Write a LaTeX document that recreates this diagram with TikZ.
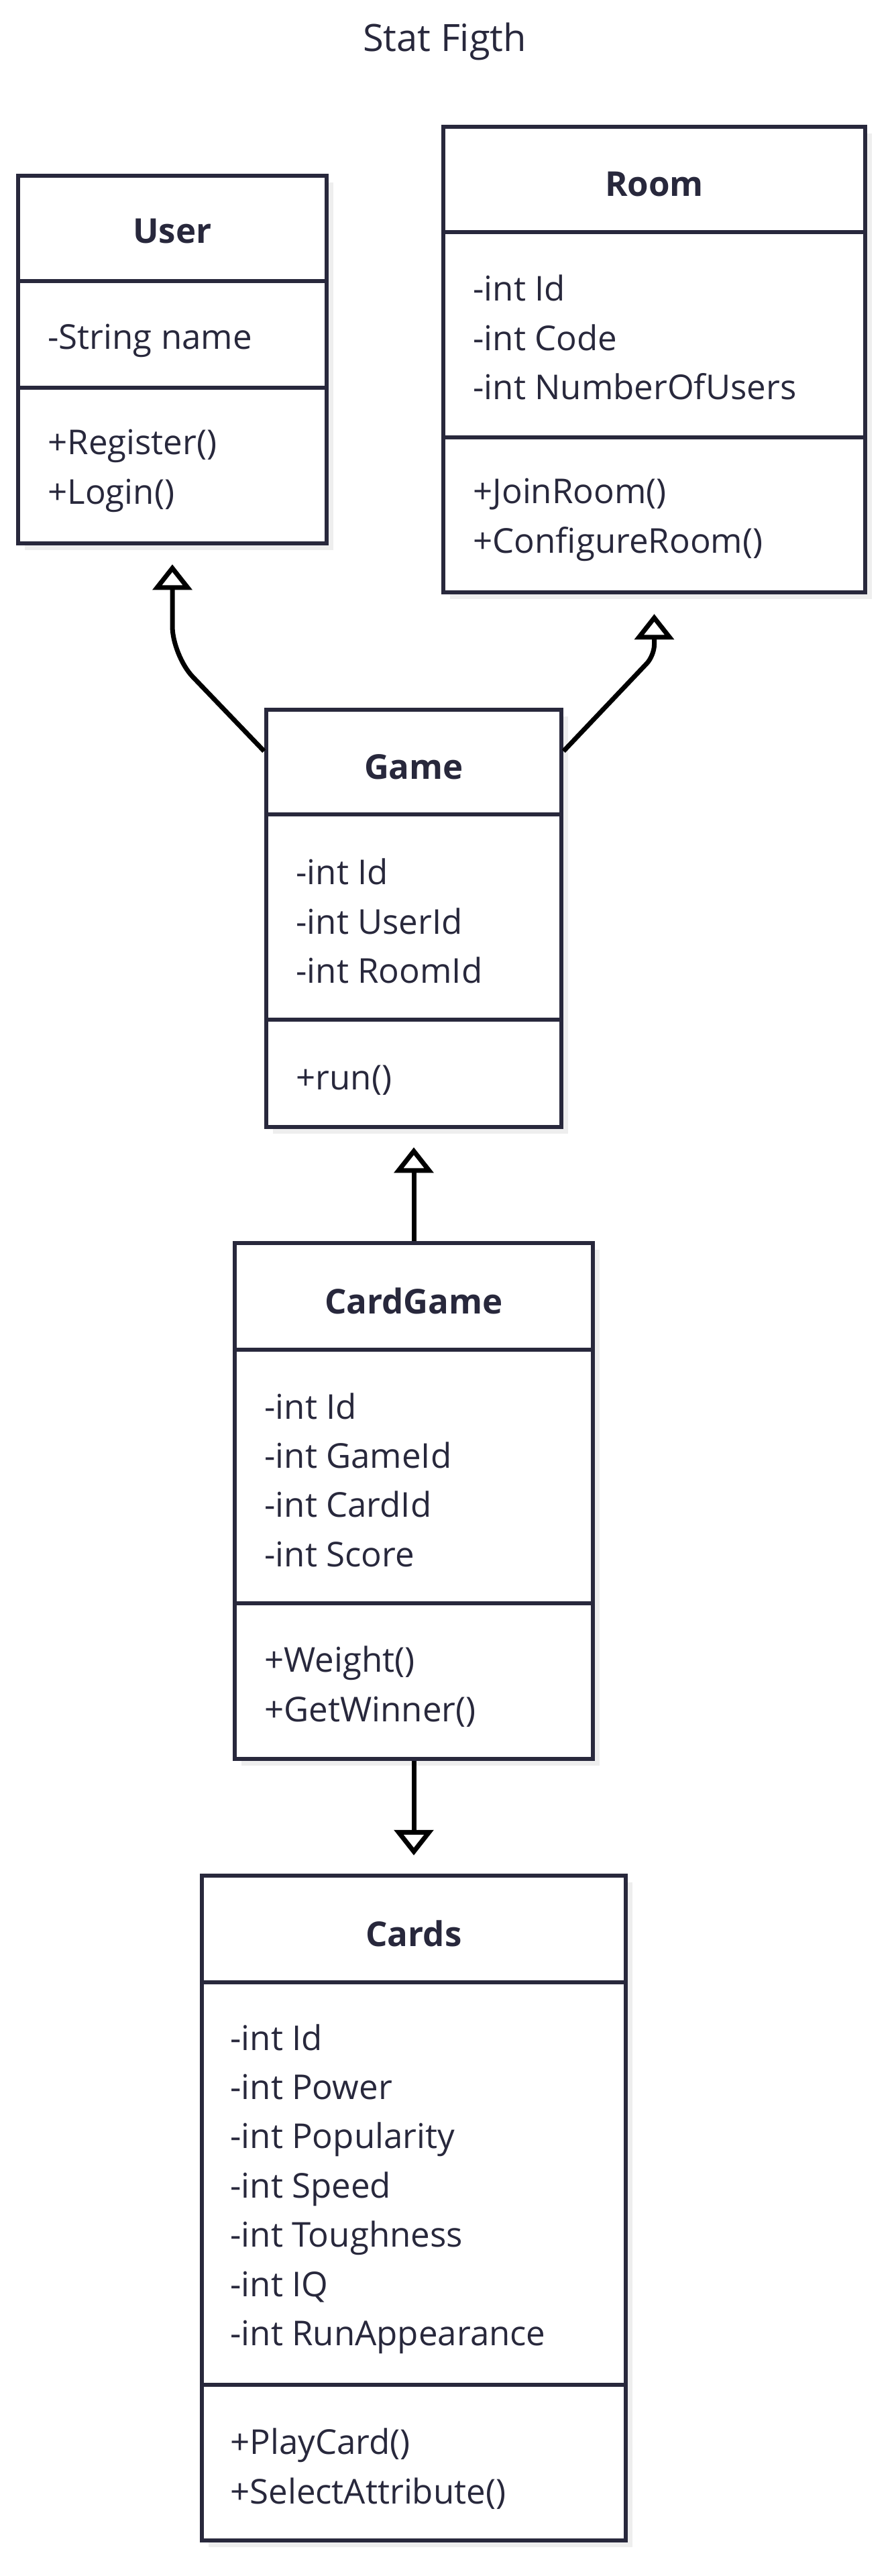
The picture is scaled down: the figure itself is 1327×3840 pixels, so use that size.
\documentclass[tikz,border=0pt]{standalone}
\usepackage{fontspec}
\setmainfont{Open Sans}
\usetikzlibrary{arrows.meta,shadows,calc}
\definecolor{ink}{HTML}{28283C}
\definecolor{shade}{HTML}{EEEEEE}
\begin{document}
\begin{tikzpicture}[x=0.5pt,y=-0.5pt,
  classbox/.style={draw=ink, line width=3.25pt, fill=white, inner sep=0pt,
    drop shadow={shadow xshift=5pt, shadow yshift=-5pt, fill=shade, opacity=1}},
  sepline/.style={draw=ink, line width=3pt},
  classtitle/.style={font=\fontsize{25.5}{30}\selectfont\bfseries, text=ink, inner sep=0pt},
  members/.style={font=\fontsize{25.5}{36.7}\selectfont, text=ink, inner sep=0pt, anchor=west, align=left},
  inherit/.style={draw=black, line width=3.5pt,
    -{Triangle[length=19pt,width=29pt,fill=white]}}]
\fill[white] (0,0) rectangle (1327,3840);
\useasboundingbox (0,0) rectangle (1327,3840);

\node[font=\fontsize{28}{32}\selectfont, text=ink, inner sep=0pt] (heading) at (663,62) {Stat Figth};

% User
\node[classbox, minimum width=230pt, minimum height=274pt] (user) at (257,536) {};
\draw[sepline] (27,419) -- (487,419);
\draw[sepline] (27,578) -- (487,578);
\node[classtitle] (usert) at (257,345) {User};
\node[members] (usera) at (71,508) {-String name};
\node[members] (userm) at (71,702) {+Register()\\+Login()};

% Room
\node[classbox, minimum width=314.5pt, minimum height=347pt] (room) at (975.5,536) {};
\draw[sepline] (661,346) -- (1290,346);
\draw[sepline] (661,652) -- (1290,652);
\node[classtitle] (roomt) at (975.5,275) {Room};
\node[members] (rooma) at (705,503) {-int Id\\-int Code\\-int NumberOfUsers};
\node[members] (roomm) at (705,775) {+JoinRoom()\\+ConfigureRoom()};

% Game
\node[classbox, minimum width=220pt, minimum height=311pt] (game) at (617,1369) {};
\draw[sepline] (397,1214) -- (837,1214);
\draw[sepline] (397,1520) -- (837,1520);
\node[classtitle] (gamet) at (617,1143) {Game};
\node[members] (gamea) at (441,1373) {-int Id\\-int UserId\\-int RoomId};
\node[members] (gamem) at (441,1610) {+run()};

% CardGame
\node[classbox, minimum width=267pt, minimum height=384.5pt] (cardgame) at (617,2237.5) {};
\draw[sepline] (350,2012) -- (884,2012);
\draw[sepline] (350,2390) -- (884,2390);
\node[classtitle] (cardgamet) at (617,1939) {CardGame};
\node[members] (cardgamea) at (394,2206) {-int Id\\-int GameId\\-int CardId\\-int Score};
\node[members] (cardgamem) at (394,2514) {+Weight()\\+GetWinner()};

% Cards
\node[classbox, minimum width=316pt, minimum height=495.5pt] (cards) at (617,3291.5) {};
\draw[sepline] (301,2955) -- (933,2955);
\draw[sepline] (301,3555) -- (933,3555);
\node[classtitle] (cardst) at (617,2882) {Cards};
\node[members] (cardsa) at (343,3263) {-int Id\\-int Power\\-int Popularity\\-int Speed\\-int Toughness\\-int IQ\\-int RunAppearance};
\node[members] (cardsm) at (343,3680) {+PlayCard()\\+SelectAttribute()};

% Connectors
\draw[inherit, rounded corners=22pt] ($(game.north west)+(0,65)$) -- ($(user.south)+(0,164)$) -- ($(user.south)+(0,28)$);
\draw[inherit, rounded corners=8pt] ($(game.north east)+(0,65)$) -- ($(room.south)+(0,91)$) -- ($(room.south)+(0,29)$);
\draw[inherit] (cardgame.north) -- ($(game.south)+(0,27)$);
\draw[inherit] (cardgame.south) -- ($(cards.north)+(0,-27)$);
\end{tikzpicture}
\end{document}
